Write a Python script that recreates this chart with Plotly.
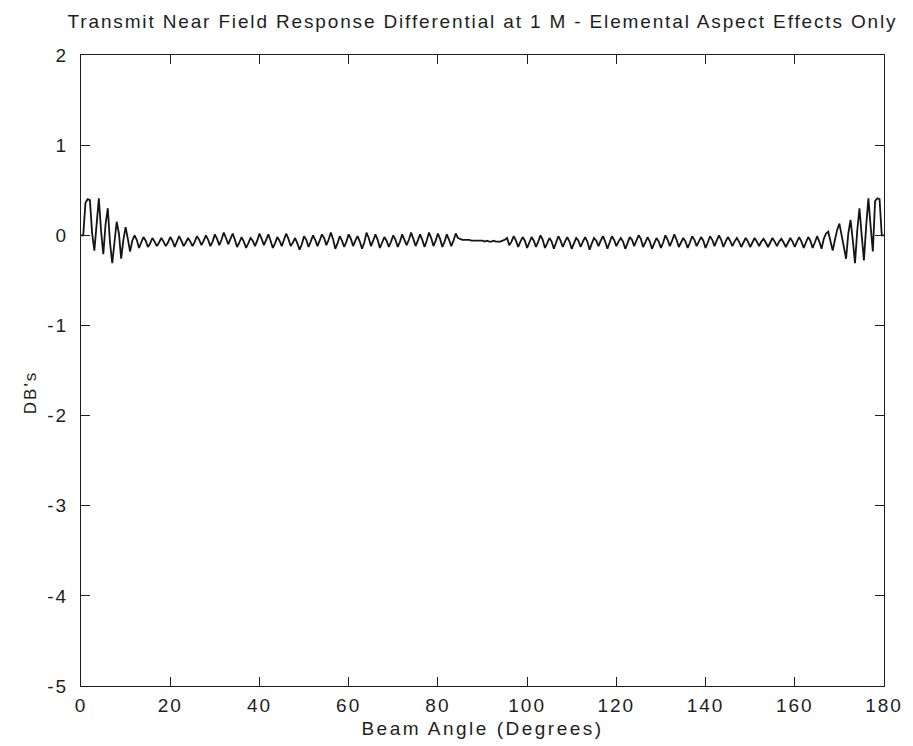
import plotly.graph_objects as go

db_values = [
    # 0.0 - 9.5
    0.00, 0.00, 0.36, 0.40, 0.39, 0.02, -0.17, 0.12, 0.41, 0.05,
    -0.21, 0.12, 0.30, -0.08, -0.31, -0.08, 0.15, 0.02, -0.26, -0.05,
    # 10.0 - 19.5
    0.09, -0.04, -0.18, -0.06, 0.00, -0.05, -0.14, -0.08, -0.02, -0.06,
    -0.13, -0.09, -0.03, -0.07, -0.12, -0.08, -0.03, -0.07, -0.12, -0.08,
    # 20.0 - 29.5
    -0.02, -0.06, -0.13, -0.07, -0.01, -0.06, -0.12, -0.08, -0.03, -0.07,
    -0.12, -0.07, -0.01, -0.05, -0.11, -0.06, 0.00, -0.05, -0.12, -0.07,
    # 30.0 - 39.5
    0.01, -0.04, -0.11, -0.05, 0.03, -0.03, -0.10, -0.04, 0.02, -0.05,
    -0.13, -0.08, -0.02, -0.07, -0.14, -0.09, -0.03, -0.06, -0.12, -0.06,
    # 40.0 - 49.5
    0.02, -0.04, -0.11, -0.05, 0.01, -0.06, -0.14, -0.09, -0.02, -0.06,
    -0.12, -0.05, 0.02, -0.04, -0.12, -0.08, -0.03, -0.09, -0.16, -0.10,
    # 50.0 - 59.5
    -0.01, -0.05, -0.13, -0.07, 0.00, -0.05, -0.12, -0.06, 0.01, -0.03,
    -0.11, -0.05, 0.03, -0.04, -0.15, -0.09, -0.01, -0.06, -0.13, -0.07,
    # 60.0 - 69.5
    0.01, -0.04, -0.12, -0.06, -0.01, -0.07, -0.15, -0.08, 0.03, -0.03,
    -0.12, -0.06, 0.01, -0.05, -0.14, -0.08, -0.02, -0.06, -0.13, -0.07,
    # 70.0 - 79.5
    0.00, -0.05, -0.13, -0.07, 0.01, -0.05, -0.11, -0.05, 0.03, -0.04,
    -0.12, -0.06, 0.01, -0.05, -0.13, -0.06, 0.03, -0.03, -0.12, -0.06,
    # 80.0 - 89.5
    0.02, -0.04, -0.13, -0.07, 0.01, -0.05, -0.12, -0.06, 0.02, -0.03,
    -0.04, -0.05, -0.05, -0.05, -0.05, -0.06, -0.06, -0.06, -0.06, -0.06,
    # 90.0 - 99.5
    -0.06, -0.07, -0.06, -0.07, -0.07, -0.06, -0.07, -0.07, -0.07, -0.06,
    -0.05, -0.03, -0.11, -0.07, -0.01, -0.06, -0.13, -0.07, -0.02, -0.06,
    # 100.0 - 109.5
    -0.14, -0.08, -0.02, -0.06, -0.13, -0.07, 0.00, -0.05, -0.14, -0.09,
    -0.03, -0.07, -0.15, -0.08, -0.01, -0.06, -0.13, -0.07, -0.02, -0.07,
    # 110.0 - 119.5
    -0.15, -0.09, -0.03, -0.06, -0.13, -0.07, -0.02, -0.07, -0.16, -0.09,
    -0.03, -0.06, -0.12, -0.06, -0.01, -0.07, -0.15, -0.08, -0.01, -0.05,
    # 120.0 - 129.5
    -0.12, -0.07, -0.03, -0.07, -0.15, -0.09, -0.02, -0.05, -0.12, -0.06,
    0.00, -0.04, -0.13, -0.08, -0.02, -0.07, -0.15, -0.09, -0.03, -0.07,
    # 130.0 - 139.5
    -0.14, -0.08, 0.00, -0.05, -0.12, -0.06, 0.01, -0.05, -0.13, -0.08,
    -0.03, -0.07, -0.14, -0.08, -0.01, -0.05, -0.12, -0.07, -0.02, -0.06,
    # 140.0 - 149.5
    -0.14, -0.08, -0.01, -0.05, -0.12, -0.06, 0.00, -0.05, -0.13, -0.07,
    -0.02, -0.06, -0.12, -0.07, -0.03, -0.07, -0.13, -0.08, -0.03, -0.07,
    # 150.0 - 159.5
    -0.13, -0.08, -0.03, -0.07, -0.12, -0.07, -0.04, -0.08, -0.13, -0.08,
    -0.03, -0.07, -0.12, -0.07, -0.04, -0.08, -0.13, -0.08, -0.03, -0.07,
    # 160.0 - 169.5
    -0.13, -0.07, -0.02, -0.07, -0.14, -0.08, -0.02, -0.06, -0.14, -0.08,
    -0.01, -0.07, -0.15, -0.04, 0.02, 0.04, -0.06, -0.17, -0.05, 0.06,
    # 170.0 - 179.5
    0.13, 0.00, -0.15, -0.26, 0.02, 0.17, -0.05, -0.31, 0.05, 0.30,
    0.00, -0.28, 0.10, 0.41, 0.10, -0.18, 0.38, 0.41, 0.40, 0.00,
    # 180.0
    0.00,
]

angle_step_deg = 0.5
angle_deg = [angle_step_deg * i for i in range(len(db_values))]

x_ticks = [0, 20, 40, 60, 80, 100, 120, 140, 160, 180]
x_tick_labels = ["0", "20", "40", "60", "80", "100", "120", "140", "160", "180"]
y_ticks = [-5, -4, -3, -2, -1, 0, 1, 2]
y_tick_labels = ["-5", "-4", "-3", "-2", "-1", "0", "1", "2"]

title_text = "Transmit Near Field Response Differential at 1 M - Elemental Aspect Effects Only"
x_title = "Beam Angle (Degrees)"
y_title = "DB's"

FONT = "Liberation Sans, Arial, sans-serif"
INK = "#1e1e1e"

fig = go.Figure()
fig.add_trace(go.Scatter(
    x=angle_deg, y=db_values, mode="lines",
    line=dict(color="#141414", width=1.8),
    showlegend=False, hoverinfo="skip",
))

axis_common = dict(
    showgrid=False, zeroline=False,
    showline=True, linecolor=INK, linewidth=1.2,
    mirror="ticks", ticks="inside", ticklen=9, tickwidth=1.2, tickcolor=INK,
    tickfont=dict(family=FONT, size=19, color=INK),
)

fig.update_layout(
    width=913, height=746,
    margin=dict(l=73, r=37, t=47, b=68),
    paper_bgcolor="white", plot_bgcolor="white",
    title=dict(text=title_text, xref="paper", x=0.5, xanchor="center",
               y=0.982, yanchor="middle",
               font=dict(family=FONT, size=19, color=INK)),
    xaxis=dict(range=[0, 180], tickvals=x_ticks, ticktext=x_tick_labels,
               ticklabelstandoff=2,
               title=dict(text=x_title, standoff=6,
                          font=dict(family=FONT, size=19, color=INK)),
               **axis_common),
    yaxis=dict(range=[-5, 2], tickvals=y_ticks, ticktext=y_tick_labels,
               ticklabelstandoff=8, **axis_common),
    annotations=[dict(
        text=y_title, xref="paper", yref="paper", x=-0.0635, y=0.464,
        xanchor="center", yanchor="middle", textangle=-90, showarrow=False,
        font=dict(family=FONT, size=17, color=INK),
    )],
)

# MATLAB-style printed text is letter-spaced; widen the SVG text after rendering.
spacing_js = """
(function(){
  function apply(){
    var gd = document.getElementById('{plot_id}');
    if(!gd) return;
    gd.querySelectorAll('.gtitle').forEach(function(t){t.style.letterSpacing='1.85px';});
    gd.querySelectorAll('.xtick text, .ytick text').forEach(function(t){t.style.letterSpacing='2px';});
    gd.querySelectorAll('.xtitle').forEach(function(t){t.style.letterSpacing='2.5px';});
    gd.querySelectorAll('.annotation-text').forEach(function(t){t.style.letterSpacing='2px';});
  }
  apply(); setTimeout(apply, 30); setTimeout(apply, 200);
})();
"""

fig.write_html("out.html", post_script=spacing_js)
